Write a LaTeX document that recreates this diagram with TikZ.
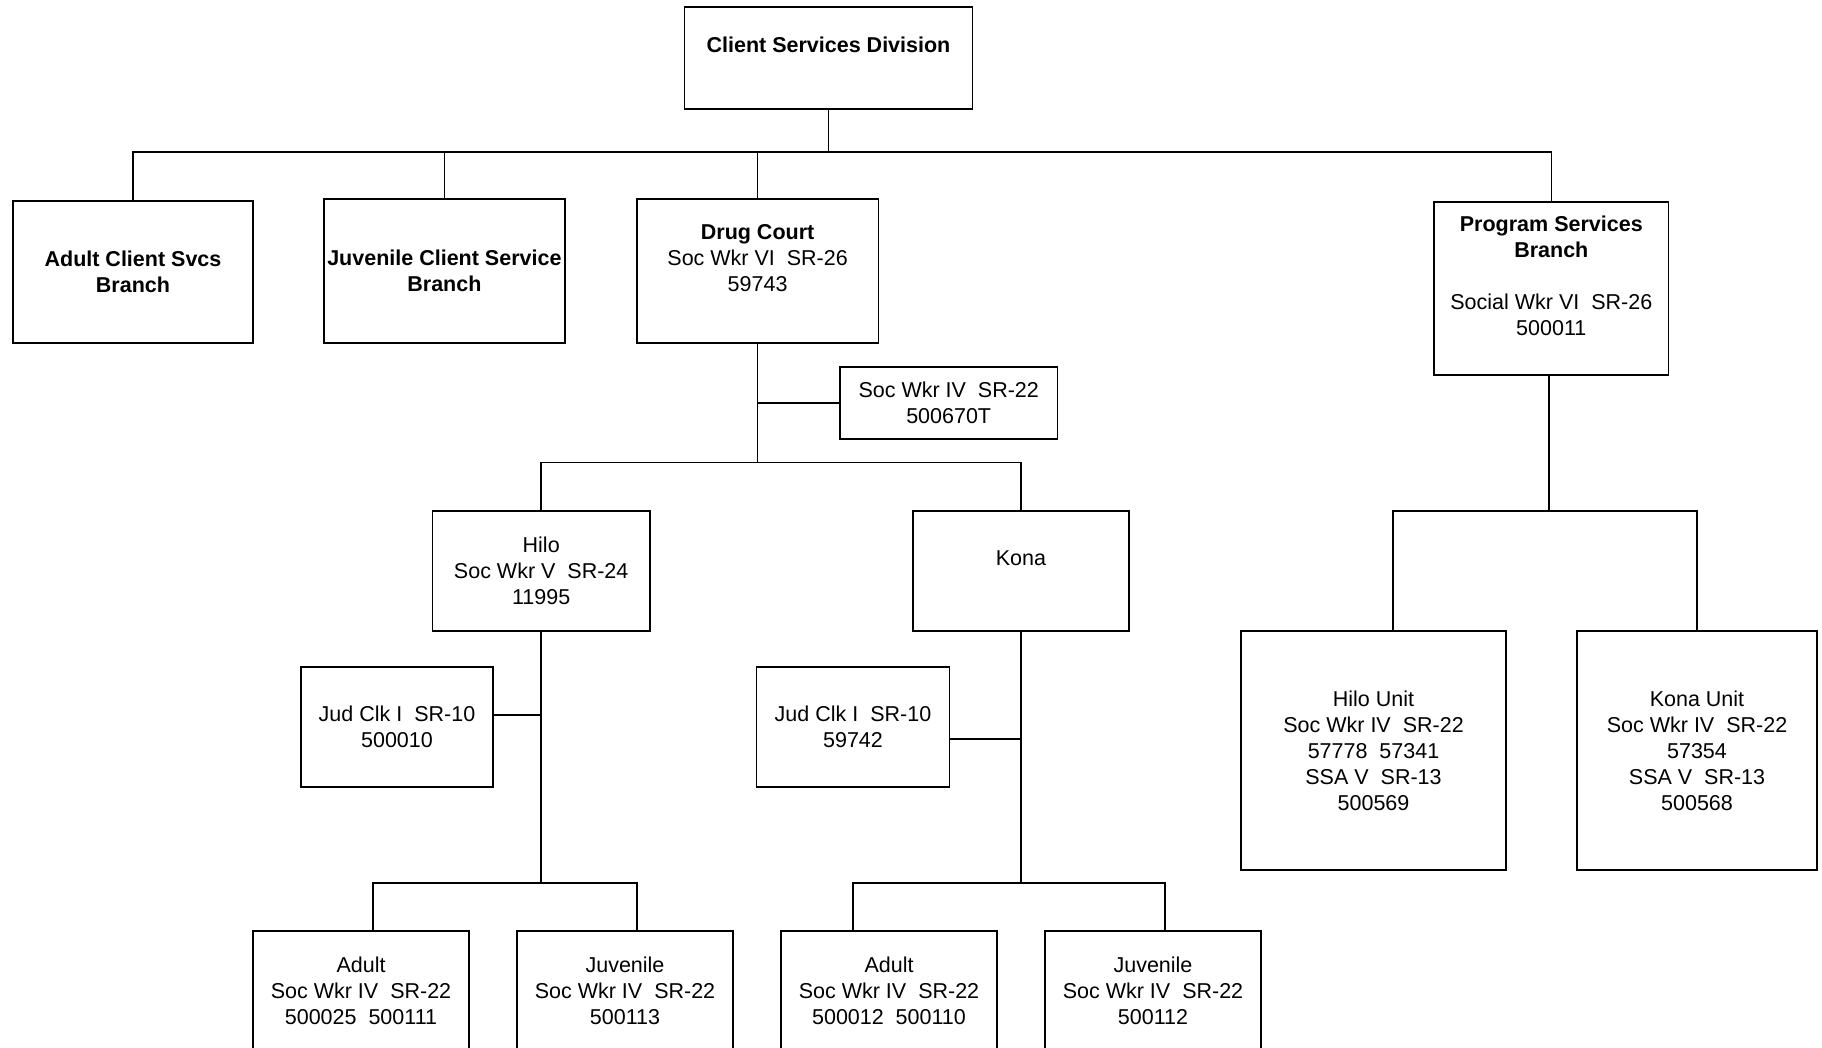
\documentclass[tikz,border=0pt]{standalone}
\usepackage{fontspec}
\setmainfont{Liberation Sans}
\usetikzlibrary{calc}
\begin{document}
\begin{tikzpicture}[x=1pt,y=-1pt,
  box/.style={draw=black,line width=1.6pt,rectangle,inner sep=0pt,align=center,
    font=\fontsize{21.5pt}{26pt}\selectfont},
  conn/.style={draw=black,line width=1.6pt},
]
\clip (0,0) rectangle (1822,1047);
\fill[white] (0,0) rectangle (1822,1047);

% top
\node[box,minimum width=288pt,minimum height=102pt] (csd) at (828.5,58) {\textbf{Client Services Division}\\~};

% second level
\node[box,minimum width=240.5pt,minimum height=142pt] (acs) at (133,272) {\textbf{Adult Client Svcs}\\\textbf{Branch}};
\node[box,minimum width=240.7pt,minimum height=144pt] (jcs) at (444.4,271) {\textbf{Juvenile Client Service}\\\textbf{Branch}};
\node[box,minimum width=241.7pt,minimum height=144pt] (dc) at (757.6,271) {\textbf{Drug Court}\\Soc Wkr VI~~SR-26\\59743\\~};
\node[box,minimum width=234.6pt,minimum height=173pt] (psb) at (1551.3,288.5) {\textbf{Program Services}\\\textbf{Branch}\\~\\Social Wkr VI~~SR-26\\500011\\~};

% drug court staff
\node[box,minimum width=217.4pt,minimum height=72pt] (sw4) at (948.7,403) {Soc Wkr IV~~SR-22\\500670T};

\node[box,minimum width=217.5pt,minimum height=120pt] (hilo) at (541.2,571) {Hilo\\Soc Wkr V~~SR-24\\11995};
\node[box,minimum width=216pt,minimum height=120pt] (kona) at (1021,571) {Kona\\~};

\node[box,minimum width=192pt,minimum height=120pt] (jch) at (397,727) {Jud Clk I~~SR-10\\500010};
\node[box,minimum width=192.8pt,minimum height=120pt] (jck) at (853,727) {Jud Clk I~~SR-10\\59742};

\node[box,minimum width=216pt,minimum height=120pt] (hadult) at (361,991) {Adult\\Soc Wkr IV~~SR-22\\500025~~500111};
\node[box,minimum width=216pt,minimum height=120pt] (hjuv) at (625,991) {Juvenile\\Soc Wkr IV~~SR-22\\500113};
\node[box,minimum width=216pt,minimum height=120pt] (kadult) at (889,991) {Adult\\Soc Wkr IV~~SR-22\\500012~~500110};
\node[box,minimum width=216pt,minimum height=120pt] (kjuv) at (1153,991) {Juvenile\\Soc Wkr IV~~SR-22\\500112};

% program services units
\node[box,minimum width=265pt,minimum height=239pt] (hunit) at (1373.5,750.5) {Hilo Unit\\Soc Wkr IV~~SR-22\\57778~~57341\\SSA V~~SR-13\\500569};
\node[box,minimum width=240pt,minimum height=239pt] (kunit) at (1697,750.5) {Kona Unit\\Soc Wkr IV~~SR-22\\57354\\SSA V~~SR-13\\500568};

% bus coordinates
\coordinate (b1) at (828.5,152);
\coordinate (b2) at (757.6,462.5);
\coordinate (b3) at (541.2,883);
\coordinate (b4) at (1021,883);
\coordinate (b5) at (1549,511);

% connectors
\draw[conn] (csd.south) -- (b1);
\draw[conn] (acs.north) -- (acs.north |- b1) -- (psb.north |- b1) -- (psb.north);
\draw[conn] (jcs.north) -- (jcs.north |- b1);
\draw[conn] (dc.north) -- (dc.north |- b1);

\draw[conn] (dc.south) -- (b2);
\draw[conn] (sw4.west) -- (sw4.west -| dc.south);
\draw[conn] (hilo.north) -- (hilo.north |- b2) -- (kona.north |- b2) -- (kona.north);

\draw[conn] (hilo.south) -- (b3);
\draw[conn] ([yshift=12pt]jch.east) -- ([yshift=12pt]jch.east -| hilo.south);
\draw[conn] ([xshift=12pt]hadult.north) -- ([xshift=12pt]hadult.north |- b3) -- ([xshift=12pt]hjuv.north |- b3) -- ([xshift=12pt]hjuv.north);

\draw[conn] (kona.south) -- (b4);
\draw[conn] ([yshift=-12pt]jck.east) -- ([yshift=-12pt]jck.east -| kona.south);
\draw[conn] ([xshift=-36pt]kadult.north) -- ([xshift=-36pt]kadult.north |- b4) -- ([xshift=12pt]kjuv.north |- b4) -- ([xshift=12pt]kjuv.north);

\draw[conn] (b5 |- psb.south) -- (b5);
\draw[conn] ([xshift=19.5pt]hunit.north) -- ([xshift=19.5pt]hunit.north |- b5) -- (kunit.north |- b5) -- (kunit.north);
\end{tikzpicture}
\end{document}
